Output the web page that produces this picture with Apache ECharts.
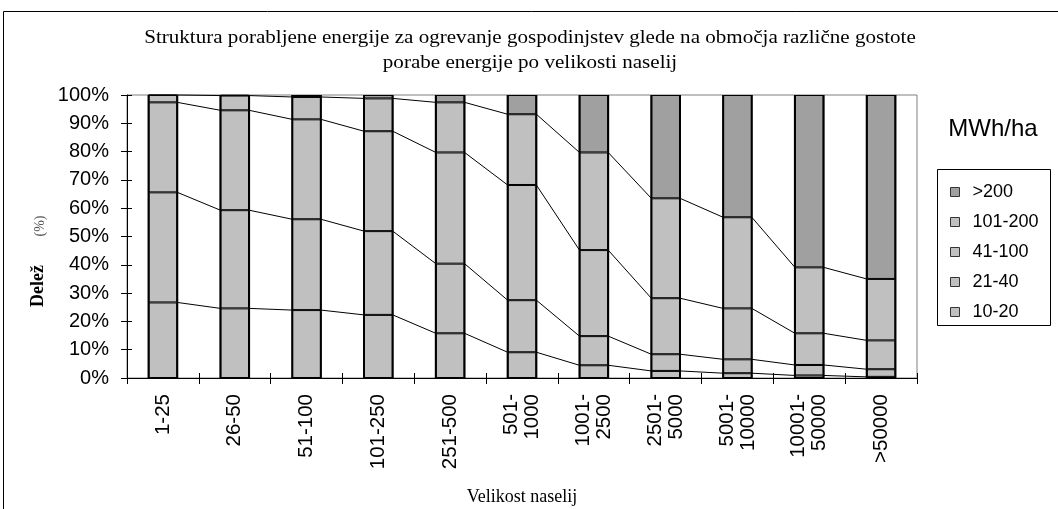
<!DOCTYPE html>
<html>
<head>
<meta charset="utf-8">
<script src="https://cdn.jsdelivr.net/npm/echarts@6/dist/echarts.min.js"></script>
<style>html,body{margin:0;padding:0;background:#fff}#c{width:1058px;height:509px}</style>
</head>
<body>
<div id="c"></div>
<script>
var categories = ['1-25','26-50','51-100','101-250','251-500','501-\n1000','1001-\n2500','2501-\n5000','5001-\n10000','10001-\n50000','>50000'];
var s10_20   = [26.7, 24.6, 24.0, 22.3, 15.8, 9.1, 4.5, 2.5, 1.7, 0.9, 0.4];
var s21_40   = [38.9, 34.7, 32.1, 29.6, 24.6, 18.4, 10.3, 5.9, 4.9, 3.7, 2.7];
var s41_100  = [31.8, 35.3, 35.3, 35.3, 39.3, 40.7, 30.4, 19.8, 18.0, 11.2, 10.2];
var s101_200 = [2.6, 5.2, 7.9, 11.6, 17.7, 25.0, 34.5, 35.3, 32.2, 23.3, 21.7];
var s200     = [0.0, 0.2, 0.7, 1.2, 2.6, 6.8, 20.3, 36.5, 43.2, 60.9, 65.0];
var seriesNames = ['10-20','21-40','41-100','101-200','>200'];

var layers = [s10_20, s21_40, s41_100, s101_200, s200];
var cum = categories.map(function(_, i){
  var c = [], s = 0;
  for (var k = 0; k < layers.length; k++) { s += layers[k][i]; c.push(s); }
  return c;
});
var lineData = categories.map(function(_, i){
  var row = [i].concat(cum[i]);
  var nxt = i < categories.length - 1 ? cum[i+1] : cum[i];
  return row.concat(nxt);
});

var light = '#c0c0c0', dark = '#a0a0a0';
var colors = [light, light, light, light, dark];

var barSeries = layers.map(function(arr, k){
  return {
    name: seriesNames[k], type: 'bar', stack: 'a', barWidth: '40%',
    data: arr, z: 2,
    itemStyle: {color: colors[k], borderColor: '#000', borderWidth: 1},
    emphasis: {disabled: true}
  };
});

var sansF = '"Liberation Sans", Arial, sans-serif';
var serifF = '"Liberation Serif", "Times New Roman", serif';

var chart = echarts.init(document.getElementById('c'), null, {renderer: 'canvas'});
chart.setOption({
  animation: false,
  backgroundColor: '#fff',
  legend: {
    orient: 'vertical', left: 945, top: 178,
    data: seriesNames.slice().reverse(),
    icon: 'rect', itemWidth: 9, itemHeight: 9, itemGap: 12,
    selectedMode: false,
    itemStyle: {borderColor: '#333', borderWidth: 1},
    textStyle: {fontFamily: sansF, fontSize: 18, color: '#000', padding: [0,0,0,8]}
  },
  grid: {left: 127, right: 141, top: 95, bottom: 131, show: true, borderColor: '#808080', borderWidth: 1, containLabel: false, outerBoundsMode: 'none'},
  xAxis: [{
    type: 'category', data: categories, boundaryGap: true,
    axisLine: {lineStyle: {color: '#000', width: 1}},
    axisTick: {show: true, length: 6, lineStyle: {color: '#000'}},
    axisLabel: {rotate: 90, margin: 16, fontFamily: sansF, fontSize: 20.5, color: '#000', interval: 0, lineHeight: 21},
    splitLine: {show: false},
    name: 'Velikost naselij', nameLocation: 'middle', nameGap: 110,
    nameTextStyle: {fontFamily: serifF, fontSize: 18, color: '#000'}
  },{
    type: 'category', data: categories, boundaryGap: true, position: 'bottom',
    axisLine: {show: false}, axisLabel: {show: false},
    axisTick: {show: true, inside: true, length: 5, lineStyle: {color: '#000'}}
  }],
  yAxis: [{
    type: 'value', min: 0, max: 100, interval: 10,
    axisLine: {show: true, lineStyle: {color: '#000'}},
    axisTick: {show: true, length: 6, lineStyle: {color: '#000'}},
    axisLabel: {formatter: '{value}%', fontFamily: sansF, fontSize: 20, color: '#000', margin: 18},
    splitLine: {show: false}
  },{
    type: 'value', min: 0, max: 100, interval: 10, position: 'left',
    axisLine: {show: false}, axisLabel: {show: false}, splitLine: {show: false},
    axisTick: {show: true, inside: true, length: 5, lineStyle: {color: '#000'}}
  }],
  graphic: [
    {type: 'rect', shape: {x: 3.5, y: 11.5, width: 1080, height: 520}, style: {fill: 'none', stroke: '#000', lineWidth: 1}, silent: true, z: -1},
    {type: 'rect', shape: {x: 937.5, y: 169.5, width: 113, height: 156}, style: {fill: 'none', stroke: '#000', lineWidth: 1}, silent: true},
    {type: 'text', x: 530, y: 38, scaleX: 1.17, style: {text: 'Struktura porabljene energije za ogrevanje gospodinjstev glede na območja različne gostote', align: 'center', verticalAlign: 'middle', fontFamily: serifF, fontSize: 18, fill: '#000'}},
    {type: 'text', x: 530, y: 63, scaleX: 1.17, style: {text: 'porabe energije po velikosti naselij', align: 'center', verticalAlign: 'middle', fontFamily: serifF, fontSize: 18, fill: '#000'}},
    {type: 'text', x: 993, y: 129, style: {text: 'MWh/ha', align: 'center', verticalAlign: 'middle', fontFamily: sansF, fontSize: 24, fill: '#000'}},
    {type: 'text', x: 38, y: 286, rotation: Math.PI/2, style: {text: 'Delež', align: 'center', verticalAlign: 'middle', fontFamily: serifF, fontSize: 18, fontWeight: 'bold', fill: '#000'}},
    {type: 'text', x: 40, y: 226, rotation: Math.PI/2, style: {text: '(%)', align: 'center', verticalAlign: 'middle', fontFamily: serifF, fontSize: 14, fill: '#555'}}
  ],
  series: barSeries.concat([{
    type: 'custom', z: 3, silent: true,
    data: lineData,
    renderItem: function(params, api){
      var i = api.value(0);
      var n = categories.length;
      var catW = api.size([1, 0])[0];
      var half = catW * 0.2;
      var children = [];
      var b0 = api.coord([i, 0]), b1 = api.coord([i, 100]);
      children.push({type: 'line', shape: {x1: b0[0]-half, y1: b0[1], x2: b0[0]-half, y2: b1[1]}, style: {stroke: '#000', lineWidth: 2}});
      children.push({type: 'line', shape: {x1: b0[0]+half, y1: b0[1], x2: b0[0]+half, y2: b1[1]}, style: {stroke: '#000', lineWidth: 2}});
      if (i < n - 1) {
        for (var k = 0; k < 4; k++) {
          var p1 = api.coord([i, api.value(1 + k)]);
          var p2 = api.coord([i + 1, api.value(6 + k)]);
          children.push({type: 'line', shape: {x1: p1[0]+half, y1: p1[1], x2: p2[0]-half, y2: p2[1]}, style: {stroke: '#000', lineWidth: 1}});
        }
      }
      return {type: 'group', children: children};
    }
  }])
});
</script>
</body>
</html>
